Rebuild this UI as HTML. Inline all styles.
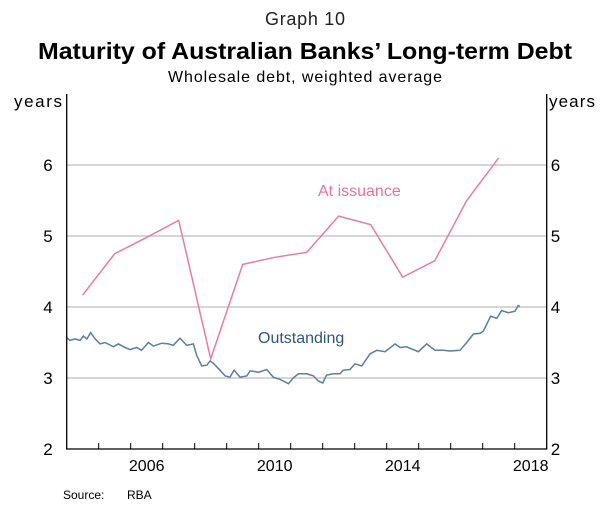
<!DOCTYPE html>
<html><head><meta charset="utf-8"><style>
body{margin:0;background:#fff;width:608px;height:513px;overflow:hidden;font-family:"Liberation Sans",Arial,sans-serif}
svg{display:block}
</style></head><body>
<svg id="chart" width="608" height="513">
<text x="305" y="25" text-anchor="middle" font-size="18" fill="#222" textLength="80">Graph 10</text>
<text x="305" y="59" text-anchor="middle" font-size="23" font-weight="bold" fill="#000" textLength="534" lengthAdjust="spacingAndGlyphs">Maturity of Australian Banks’ Long-term Debt</text>
<text x="305" y="82" text-anchor="middle" font-size="16" fill="#000" textLength="274">Wholesale debt, weighted average</text>
<text x="14" y="107" font-size="17" fill="#000" textLength="48">years</text>
<text x="549" y="107" font-size="17" fill="#000" textLength="46">years</text>
<text x="63" y="499" font-size="12" fill="#000">Source:</text>
<text x="127" y="499" font-size="12" fill="#000">RBA</text>
<g id="grid"></g><g id="series"></g><g id="axes"></g>
<text x="318" y="196" font-size="16" fill="#e8739a">At issuance</text>
<text x="258" y="343" font-size="16" fill="#2f5680">Outstanding</text>
</svg>
<script>
const yTicks=[2,3,4,5,6];
const xLabels=[2006,2010,2014,2018];
const issuanceYears=[2004.5,2005.5,2006.5,2007.5,2008.5,2009.5,2010.5,2011.5,2012.5,2013.5,2014.5,2015.5,2016.5,2017.5];
const issuanceValues=[4.17,4.75,4.98,5.22,3.27,4.6,4.7,4.77,5.28,5.16,4.42,4.65,5.5,6.1];
const outYears=[2004.00,2004.10,2004.26,2004.42,2004.52,2004.63,2004.75,2004.89,2005.04,2005.20,2005.46,2005.61,2005.82,2005.98,2006.19,2006.34,2006.55,2006.71,2006.97,2007.18,2007.33,2007.54,2007.75,2007.96,2008.06,2008.22,2008.38,2008.48,2008.58,2008.79,2008.95,2009.10,2009.23,2009.42,2009.63,2009.73,2009.89,2009.99,2010.25,2010.46,2010.67,2010.93,2011.08,2011.24,2011.50,2011.71,2011.86,2012.00,2012.12,2012.33,2012.54,2012.64,2012.85,2013.01,2013.22,2013.48,2013.69,2013.95,2014.26,2014.42,2014.62,2014.99,2015.25,2015.51,2015.77,2015.98,2016.29,2016.50,2016.71,2016.92,2017.02,2017.25,2017.44,2017.59,2017.80,2018.01,2018.11,2018.16];
const outValues=[3.57,3.53,3.55,3.53,3.59,3.55,3.64,3.55,3.48,3.50,3.44,3.48,3.43,3.40,3.43,3.39,3.50,3.45,3.49,3.48,3.46,3.56,3.46,3.48,3.32,3.17,3.18,3.24,3.21,3.11,3.03,3.01,3.11,3.01,3.03,3.10,3.09,3.08,3.12,3.01,2.98,2.92,3.00,3.06,3.06,3.03,2.96,2.93,3.04,3.06,3.06,3.11,3.12,3.20,3.17,3.34,3.39,3.37,3.48,3.43,3.44,3.37,3.48,3.39,3.39,3.38,3.39,3.50,3.62,3.63,3.66,3.87,3.84,3.95,3.92,3.94,4.02,4.01];
const L=66.7,R=546.7,T=94,B=449,X0=2004,X1=2019,Y0=2,Y1=7;
const xs=v=>L+(v-X0)/(X1-X0)*(R-L);
const ys=v=>B-(v-Y0)/(Y1-Y0)*(B-T);
const NS='http://www.w3.org/2000/svg';
function mk(t,a,p){const e=document.createElementNS(NS,t);for(const k in a)e.setAttribute(k,a[k]);p.appendChild(e);return e;}
const grid=document.getElementById('grid'),axes=document.getElementById('axes'),ser=document.getElementById('series');
yTicks.forEach(v=>{
 if(v>Y0){const g=mk('line',{x1:L,x2:R,y1:ys(v),y2:ys(v),stroke:'#c8c8c8','stroke-width':1.5},grid);
 
 }
 const a=mk('text',{x:L-14,y:ys(v)+6,'text-anchor':'end','font-size':17,fill:'#000'},axes);a.textContent=v;
 
 
 const b=mk('text',{x:R+4,y:ys(v)+6,'font-size':17,fill:'#000'},axes);b.textContent=v;
 
 
});
const frame=mk('path',{d:`M${L},${T}V${B}H${R}V${T}`,fill:'none',stroke:'#000','stroke-width':1.3},axes);


for(let y=X0+1;y<X1;y++){const t=mk('line',{x1:xs(y),x2:xs(y),y1:B,y2:B-6,stroke:'#000','stroke-width':1},axes);
 
 }
xLabels.forEach(y=>{const t=mk('text',{x:xs(y+0.5),y:B+22,'text-anchor':'middle','font-size':16,fill:'#000'},axes);t.textContent=y;
 
 });
const p1=mk('polyline',{points:issuanceYears.map((x,i)=>xs(x)+','+ys(issuanceValues[i])).join(' '),fill:'none',stroke:'#ea7ca0','stroke-width':1.5},ser);


const p2=mk('polyline',{points:outYears.map((x,i)=>xs(x)+','+ys(outValues[i])).join(' '),fill:'none',stroke:'#5a7fa6','stroke-width':1.5},ser);


</script>
</body></html>
